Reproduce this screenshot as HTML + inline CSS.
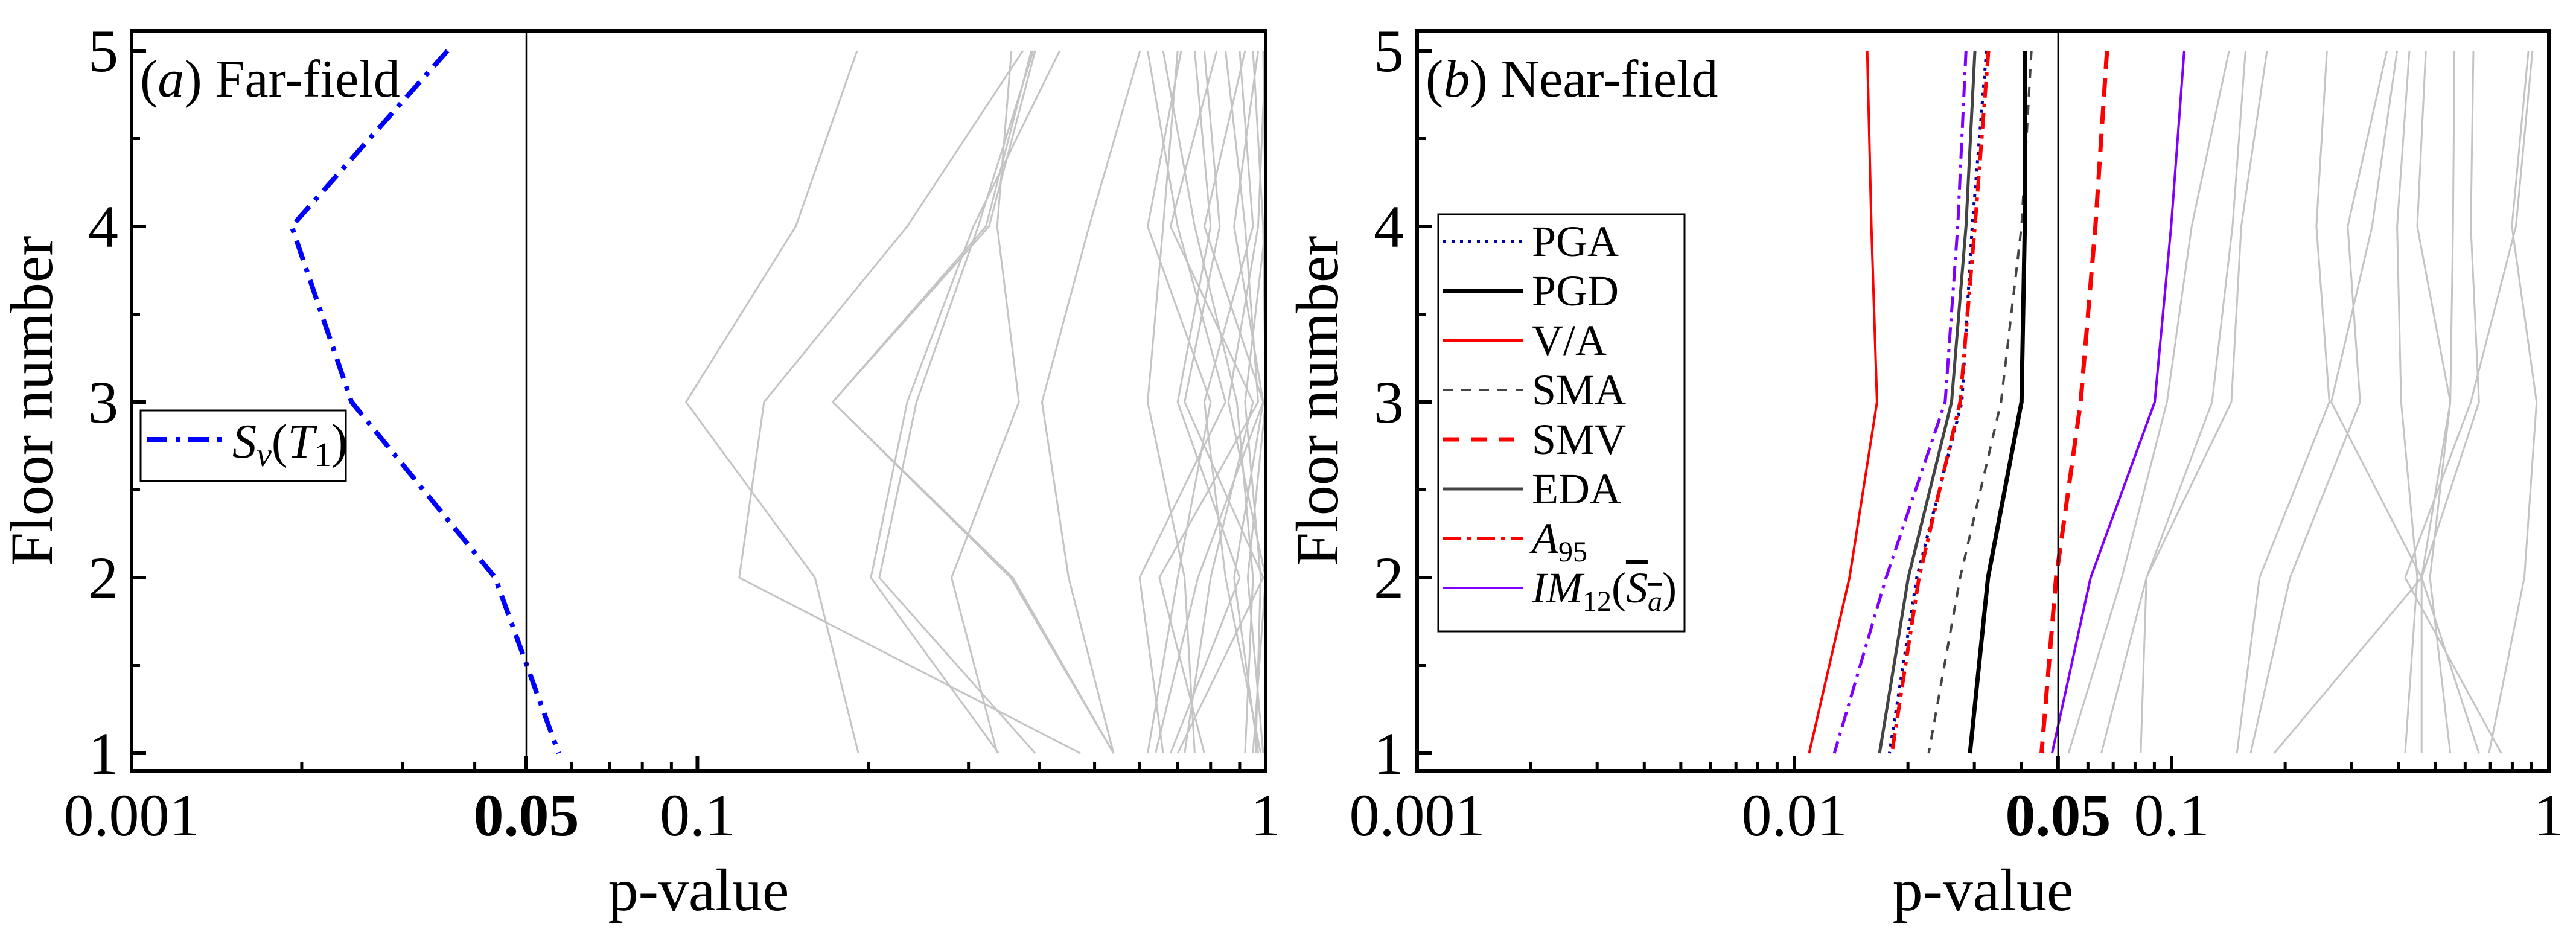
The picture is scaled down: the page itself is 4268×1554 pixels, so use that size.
<!DOCTYPE html>
<html><head><meta charset="utf-8"><style>
html,body{margin:0;padding:0;background:#fff}
svg{display:block;font-family:"Liberation Serif","DejaVu Serif",serif}
svg text{font-family:"Liberation Serif","DejaVu Serif",serif;fill:#000}
</style></head><body>
<svg id="chart" width="4268" height="1554" viewBox="0 0 4268 1554" xmlns="http://www.w3.org/2000/svg" font-family="Liberation Serif, serif">
<g id="panelA"></g>
<g id="panelB"></g>
</svg>
<script>
const floors = [5,4,3,2,1];
// Panel (a) far-field
const aSv = [0.0229,0.00489,0.00885,0.0367,0.057];
const aGray = [
[0.191,0.149,0.0955,0.161,0.192],
[0.374,0.234,0.131,0.1185,0.472],
[0.387,0.322,0.173,0.356,0.54],
[0.393,0.326,0.173,0.359,0.54],
[0.434,0.306,0.234,0.202,0.339],
[0.39,0.312,0.243,0.209,0.393],
[0.357,0.337,0.368,0.28,0.337],
[0.601,0.489,0.404,0.45,0.54],
[0.62,0.70,0.85,0.60,0.66],[0.70,0.66,0.62,0.72,0.75],[0.75,0.80,0.70,0.90,0.68],
[0.82,0.68,0.95,0.80,0.72],[0.90,0.95,0.78,0.85,0.98],[0.97,0.88,0.99,0.76,0.64],
[0.99,1.0,0.92,0.98,0.96],[0.95,0.99,1.0,0.93,0.99],[1.0,0.97,0.86,1.0,0.95],
[0.85,0.92,0.97,0.65,0.78],[0.66,0.75,0.89,0.95,0.92],[0.78,0.83,0.72,0.99,0.70],
[0.92,0.78,0.99,0.88,0.97],[0.71,0.62,0.80,0.70,0.62]
];
// Panel (b) near-field
const bVA   = [0.0156,0.0160,0.01656,0.0140,0.01094];
const bExtra= [0.0285,0.0271,0.0251,0.0175,0.01276];
const bEDA  = [0.0301,0.0285,0.0261,0.02004,0.01682];
const bPGA  = [0.0323,0.0296,0.0278,0.0211,0.01786];
const bA95  = [0.0327,0.0301,0.0275,0.0214,0.01813];
const bSMA  = [0.0425,0.0400,0.0353,0.0275,0.0227];
const bPGD  = [0.0408,0.0408,0.0400,0.0326,0.0292];
const bSMV  = [0.0674,0.0628,0.0574,0.0494,0.0452];
const bIM12 = [0.108,0.0997,0.0902,0.0610,0.0482];
const bGray = [
[0.142,0.113,0.0972,0.0738,0.0533],
[0.157,0.145,0.128,0.0858,0.0651],
[0.179,0.153,0.144,0.0858,0.0828],
[0.258,0.242,0.262,0.171,0.149],
[0.372,0.293,0.316,0.206,0.162],
[0.396,0.340,0.265,0.460,0.187],
[0.427,0.396,0.406,0.448,0.416],
[0.472,0.448,0.548,0.460,0.460],
[0.562,0.557,0.548,0.484,0.548],
[0.631,0.621,0.653,0.460,0.653],
[0.883,0.798,0.928,0.861,0.694],
[0.905,0.818,0.621,0.416,0.748]
];
const aXTickLabels = ["0.001","0.05","0.1","1"];
const aXTickVals = [0.001,0.05,0.1,1];
const aMinorA = [0.0054,0.0147,0.030];
const bXTickLabels = ["0.001","0.01","0.05","0.1","1"];
const bXTickVals = [0.001,0.01,0.05,0.1,1];
const yTickLabels = ["1","2","3","4","5"];

const NS="http://www.w3.org/2000/svg";
const FF='"Liberation Serif","DejaVu Serif",serif';
function el(tag, attrs, parent){const e=document.createElementNS(NS,tag);for(const k in attrs)e.setAttribute(k,attrs[k]);if(tag==='text')e.style.fontFamily=FF;parent.appendChild(e);return e;}
const TOP=51, BOT=1277, Y5=84, Y1=1248;
function yS(f){return Y1-(f-1)*(Y1-Y5)/4;}
const AL=218, AR=2097, ABRK=872;
function xA(p){const l=Math.log10(p);
  if(p<=0.05) return AL+(l+3)/(Math.log10(0.05)+3)*(ABRK-AL);
  return ABRK+(l-Math.log10(0.05))/(-Math.log10(0.05))*(AR-ABRK);}
const BL=2348, BR=4223;
function xB(p){return BL+(Math.log10(p)+3)/3*(BR-BL);}
function pts(vals,xf){return vals.map((v,i)=>xf(v).toFixed(1)+","+yS(floors[i]).toFixed(1)).join(" ");}

function axes(g,L,R,xf,majors,labels,minors,boldIdx,letter,title){
  majors.forEach((v,i)=>{
    const x=xf(v);
    const t=el('line',{x1:x,x2:x,y1:BOT,y2:BOT-24,stroke:'#000','stroke-width':6},g);
    
    
    const tx=el('text',{x:x,y:1384,'font-size':100,'text-anchor':'middle','font-weight':i===boldIdx?'bold':'normal'},g);
    tx.textContent=labels[i];
    
    
  });
  minors.forEach(v=>{
    const x=xf(v);
    const t=el('line',{x1:x,x2:x,y1:BOT,y2:BOT-14,stroke:'#000','stroke-width':5},g);
    
    
  });
  for(let f=1;f<=5;f++){
    const y=yS(f);
    const t=el('line',{x1:L,x2:L+24,y1:y,y2:y,stroke:'#000','stroke-width':6},g);
    
    
    const tx=el('text',{x:L-22,y:y+34,'font-size':100,'text-anchor':'end'},g);
    tx.textContent=yTickLabels[f-1];
    
    
    if(f<5){const m=el('line',{x1:L,x2:L+14,y1:y-(Y1-Y5)/8,y2:y-(Y1-Y5)/8,stroke:'#000','stroke-width':5},g);
      
      }
  }
  const fr=el('rect',{x:L,y:TOP,width:R-L,height:BOT-TOP,fill:'none',stroke:'#000','stroke-width':6},g);
  
  
  const v=xf(0.05);
  const vl=el('line',{x1:v,x2:v,y1:TOP,y2:BOT,stroke:'#000','stroke-width':2.5},g);
  
  
  const xt=el('text',{x:(L+R)/2,y:1508,'font-size':100,'text-anchor':'middle'},g);
  xt.textContent='p-value';
  
  
  const yt=el('text',{x:0,y:0,'font-size':100,'text-anchor':'middle',transform:`translate(${L-132},${(TOP+BOT)/2}) rotate(-90)`},g);
  yt.textContent='Floor number';
  
  
  const pl=el('text',{x:L+14,y:160,'font-size':88},g);
  pl.innerHTML='(<tspan font-style="italic">'+letter+'</tspan>) '+title;
  
  
}
function series(g,vals,xf,stroke,w,dash,name){
  const p=el('polyline',{points:pts(vals,xf),fill:'none',stroke:stroke,'stroke-width':w,'stroke-dasharray':dash||'none'},g);
  
  
}
const gA=document.getElementById('panelA');
aGray.forEach(s=>series(gA,s,xA,'#c4c4c4',3,null,'other-im-line'));
series(gA,aSv,xA,'#0000ff',8,'34 14 7 14','sv-t1-line');
const aMin=[...aMinorA,0.06,0.07,0.08,0.09,0.2,0.3,0.4,0.5,0.6,0.7,0.8,0.9];
axes(gA,AL,AR,xA,aXTickVals,aXTickLabels,aMin,1,'a','Far-field');
const lgA=el('g',{},gA);
el('rect',{x:233,y:680,width:340,height:117,fill:'#fff',stroke:'#000','stroke-width':3},lgA);
el('line',{x1:243,x2:380,y1:728,y2:728,stroke:'#0000ff','stroke-width':8,'stroke-dasharray':'34 14 7 14'},lgA);
const la=el('text',{x:385,y:758,'font-size':80},lgA);
la.innerHTML='<tspan font-style="italic">S</tspan><tspan font-style="italic" font-size="56" dy="14">v</tspan><tspan dy="-14">(</tspan><tspan font-style="italic">T</tspan><tspan font-size="56" dy="14">1</tspan><tspan dy="-14">)</tspan>';



const gB=document.getElementById('panelB');
bGray.forEach(s=>series(gB,s,xB,'#c4c4c4',3,null,'other-im-line'));
series(gB,bVA,xB,'#ff0000',4,null,'va-line');
series(gB,bExtra,xB,'#8000ff',5,'26 10 5 10','sv-line');
series(gB,bEDA,xB,'#444',5,null,'eda-line');
series(gB,bPGA,xB,'#0000a0',5,'5 9','pga-line');
series(gB,bA95,xB,'#ff0000',6,'26 10 6 10','a95-line');
series(gB,bSMA,xB,'#444',4,'16 14','sma-line');
series(gB,bPGD,xB,'#000',7,null,'pgd-line');
series(gB,bSMV,xB,'#ff0000',7,'30 16','smv-line');
series(gB,bIM12,xB,'#8000ff',4,null,'im12-line');
const bMin=[];for(let d=-3;d<0;d++)for(let k=2;k<=9;k++)bMin.push(k*Math.pow(10,d));
axes(gB,BL,BR,xB,bXTickVals,bXTickLabels,bMin,2,'b','Near-field');
const lgB=el('g',{},gB);
el('rect',{x:2383,y:355,width:408,height:691,fill:'#fff',stroke:'#000','stroke-width':3},lgB);
const legItems=[["PGA",'#0000a0',5,'5 9'],["PGD",'#000',7,null],["V/A",'#ff0000',4,null],["SMA",'#444',4,'16 14'],["SMV",'#ff0000',7,'26 20'],["EDA",'#444',5,null],["A95",'#ff0000',6,'30 10 6 10'],["IM12",'#8000ff',4,null]];
legItems.forEach((it,i)=>{
  const y=400+i*82;
  el('line',{x1:2391,x2:2523,y1:y,y2:y,stroke:it[1],'stroke-width':it[2],'stroke-dasharray':it[3]||'none'},lgB);
  const t=el('text',{x:2538,y:y+24,'font-size':72},lgB);
  if(it[0]==="A95") t.innerHTML='<tspan font-style="italic">A</tspan><tspan font-size="48" dy="14">95</tspan>';
  else if(it[0]==="IM12") t.innerHTML='<tspan font-style="italic">IM</tspan><tspan font-size="48" dy="14">12</tspan><tspan dy="-14">(</tspan><tspan font-style="italic" text-decoration="overline">S<tspan font-size="48" dy="14">a</tspan></tspan><tspan dy="-14">)</tspan>';
  else t.textContent=it[0];
  
  
});
</script>
</body></html>
